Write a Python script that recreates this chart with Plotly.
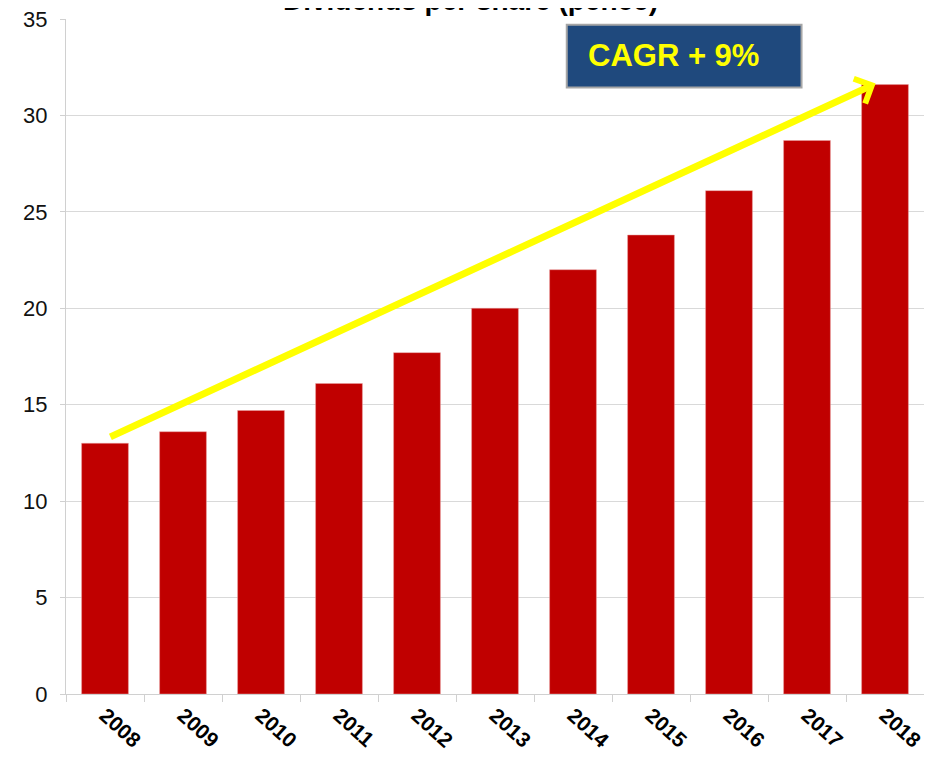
import plotly.graph_objects as go

# dividends per share, pence
years = ["2008", "2009", "2010", "2011", "2012", "2013",
         "2014", "2015", "2016", "2017", "2018"]
dividends = [13.0, 13.6, 14.7, 16.1, 17.7, 20.0, 22.0, 23.8, 26.1, 28.7, 31.6]

y_ticks = [0, 5, 10, 15, 20, 25, 30, 35]
cagr_text = "CAGR + 9%"
title_text = "Dividends per share (pence)"

fig = go.Figure()

fig.add_trace(go.Bar(
    x=years,
    y=dividends,
    marker=dict(color="#C00000", line=dict(color="#E8A0A0", width=0.5)),
    width=0.6,
))

# trend arrow from first to last bar
fig.add_annotation(
    x=9.88, y=dividends[-1] + 0.05, xref="x", yref="y",
    ax=0.05, ay=dividends[0] + 0.3, axref="x", ayref="y",
    text="", showarrow=True,
    arrowhead=4, arrowsize=0.75, arrowwidth=7, arrowcolor="#FFFF00",
)

# CAGR box
fig.add_shape(
    type="rect", xref="x", yref="y",
    x0=5.92, x1=8.93, y0=31.45, y1=34.7,
    fillcolor="#1F497D", line=dict(color="#A6A6A6", width=2),
    layer="above",
)
fig.add_annotation(
    x=6.17, y=33.1, xref="x", yref="y",
    text="<b>" + cagr_text + "</b>", showarrow=False,
    xanchor="left", yanchor="middle",
    font=dict(family="Liberation Sans, Arial", size=31, color="#FFFF00"),
)

# title sits mostly above the top edge of the page
fig.add_annotation(
    x=0.472, y=1.028, xref="paper", yref="paper",
    text="<b>" + title_text + "</b>", showarrow=False,
    xanchor="center", yanchor="middle",
    font=dict(family="Liberation Sans, Arial", size=28, color="black"),
)

fig.update_layout(
    width=924, height=753,
    margin=dict(l=58, r=8, t=11, b=67),
    paper_bgcolor="white",
    plot_bgcolor="white",
    showlegend=False,
    bargap=0.4,
)

fig.update_xaxes(
    type="category",
    tickangle=42,
    tickfont=dict(family="Liberation Sans, Arial", size=21, color="black", weight="bold"),
    showline=True, linecolor="#D0D0D0", linewidth=1,
    ticks="outside", tickson="boundaries", ticklen=7, tickcolor="#D0D0D0",
    showgrid=False,
    automargin=False,
)

fig.update_yaxes(
    range=[0, 35],
    tickvals=y_ticks,
    tickfont=dict(family="Liberation Sans, Arial", size=22, color="#111111"),
    showline=True, linecolor="#D0D0D0", linewidth=1,
    ticks="outside", ticklen=5, tickcolor="#D0D0D0",
    ticklabelstandoff=8,
    ticklabeloverflow="allow",
    showgrid=True, gridcolor="#D9D9D9", gridwidth=1,
    zeroline=False,
    automargin=False,
)

fig.write_html("out.html")
